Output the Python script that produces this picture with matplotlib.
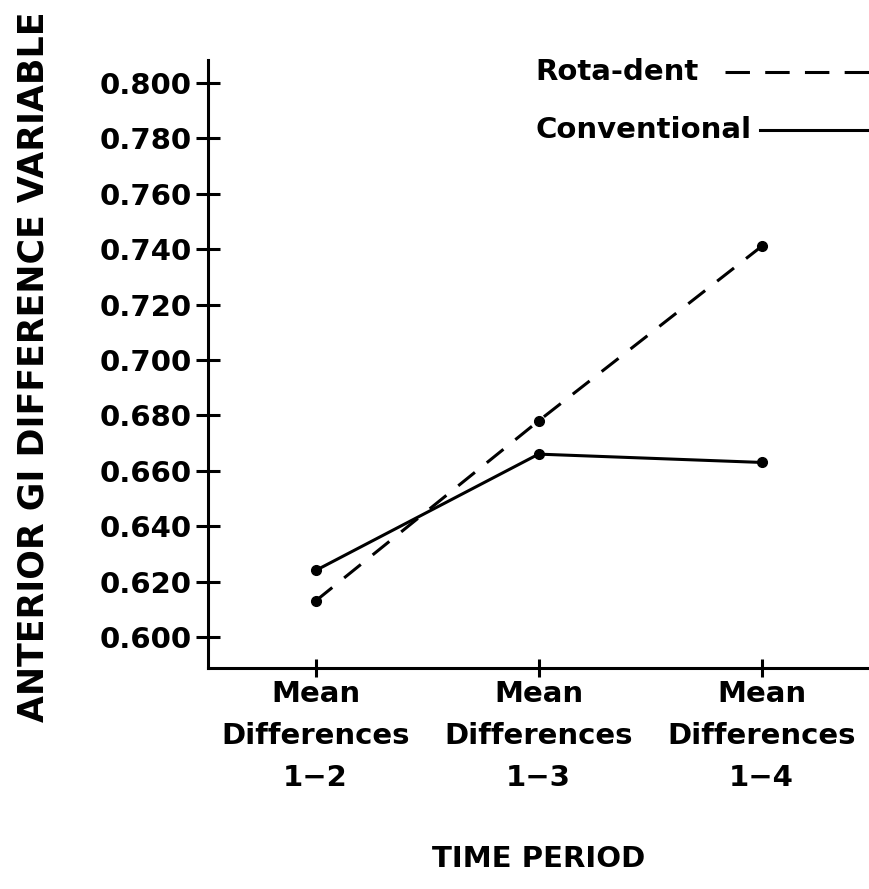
import matplotlib.pyplot as plt

# values
periods = ['Mean\nDifferences\n1\u22122', 'Mean\nDifferences\n1\u22123', 'Mean\nDifferences\n1\u22124']
rotadent = [0.613, 0.678, 0.741]
conventional = [0.624, 0.666, 0.663]
yticks = [0.600, 0.620, 0.640, 0.660, 0.680, 0.700, 0.720, 0.740, 0.760, 0.780, 0.800]

plt.rcParams['font.family'] = 'DejaVu Sans'
plt.rcParams['font.weight'] = 'bold'
plt.rcParams['axes.labelweight'] = 'bold'

fig = plt.figure(figsize=(8.69, 8.89), dpi=100)
ax = fig.add_axes([0.239, 0.2486, 0.7606, 0.684])

x = [1, 2, 3]
ax.plot(x, rotadent, color='black', lw=2.2, dashes=(7, 5), marker='o', ms=7)
ax.plot(x, conventional, color='black', lw=2.2, marker='o', ms=7)

ax.set_xlim(0.516, 3.48)
ax.set_ylim(0.5888, 0.8083)
ax.set_yticks(yticks)
ax.set_yticklabels(['%.3f' % v for v in yticks])
ax.set_xticks(x)
ax.set_xticklabels(periods, linespacing=1.65)

for s in ['top', 'right']:
    ax.spines[s].set_visible(False)
for s in ['left', 'bottom']:
    ax.spines[s].set_linewidth(2.2)

ax.tick_params(axis='y', direction='inout', length=17, width=2.2, pad=3, labelsize=21)
ax.tick_params(axis='x', direction='inout', length=13, width=2.2, pad=2, labelsize=21)

ax.set_xlabel('TIME PERIOD', fontsize=21, labelpad=38)
fig.text(0.038, 0.587, 'ANTERIOR GI DIFFERENCE VARIABLE', rotation=90,
         ha='center', va='center', fontsize=25)

# hand-drawn style key at the top right
fig.text(0.6157, 0.919, 'Rota-dent', ha='left', va='center', fontsize=21)
fig.text(0.6157, 0.854, 'Conventional', ha='left', va='center', fontsize=21)
fig.add_artist(plt.Line2D([0.834, 1.0], [0.919, 0.919], transform=fig.transFigure,
                          color='black', lw=2.2, dashes=(8, 5)))
fig.add_artist(plt.Line2D([0.8746, 1.0], [0.854, 0.854], transform=fig.transFigure,
                          color='black', lw=2.2))

plt.savefig('out.png', dpi=100)
